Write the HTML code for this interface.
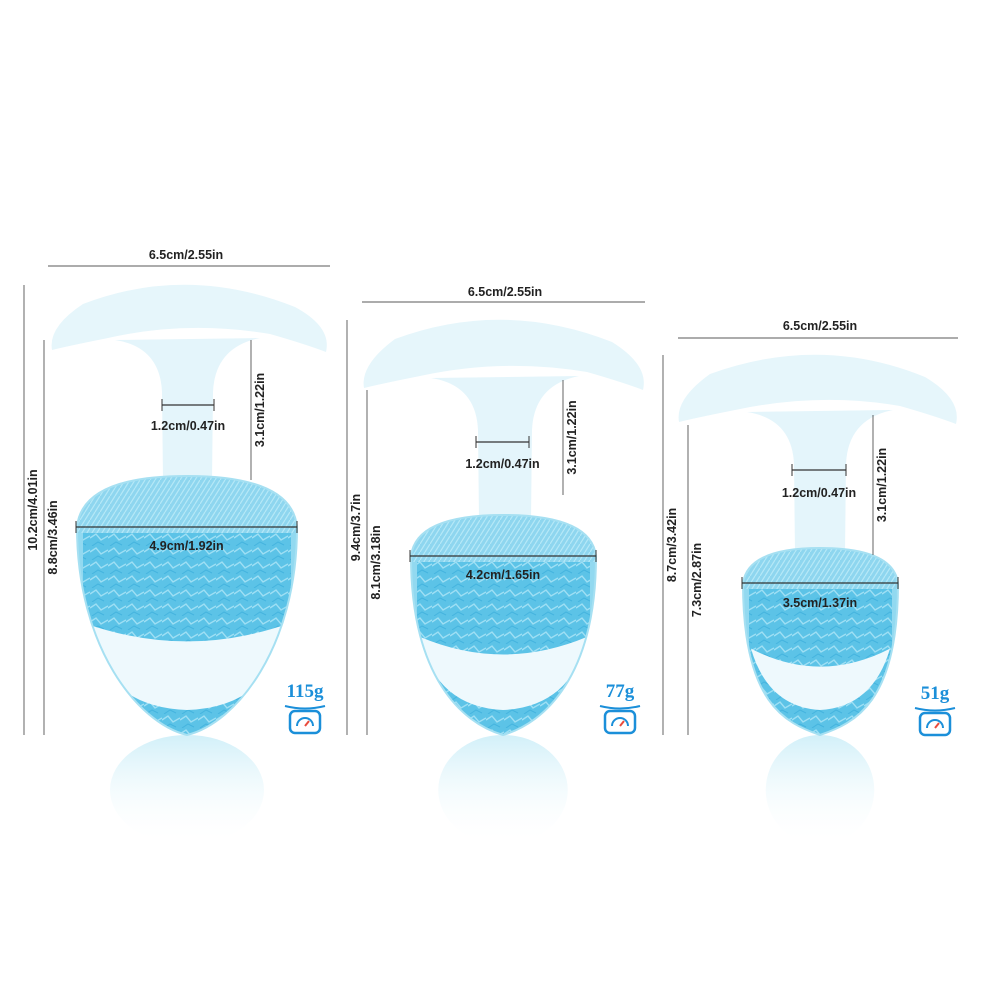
<!DOCTYPE html>
<html><head><meta charset="utf-8">
<style>
html,body{margin:0;padding:0;background:#fff;}
svg{display:block;}
text{font-family:"Liberation Sans",sans-serif;font-size:12.5px;fill:#222;font-weight:bold;}
.w{font-family:"Liberation Serif",serif;font-size:19px;fill:#1b8fd9;font-weight:bold;}
</style></head>
<body>
<svg id="s" width="1000" height="1000" viewBox="0 0 1000 1000" xmlns="http://www.w3.org/2000/svg">
<defs>
<linearGradient id="refl" x1="0" y1="0" x2="0" y2="1">
<stop offset="0" stop-color="#c6ecf7" stop-opacity="0.8"/>
<stop offset="1" stop-color="#ffffff" stop-opacity="0"/>
</linearGradient>
<pattern id="tex" width="18" height="14" patternUnits="userSpaceOnUse">
<rect width="18" height="14" fill="#5cc3e7"/>
<path d="M0 6 L6 2 L11 8 L18 4" stroke="#9edff4" stroke-width="1.4" fill="none"/>
<path d="M2 14 L8 10 L14 13" stroke="#44b4df" stroke-width="1" fill="none"/>
</pattern>
<pattern id="tex2" width="10" height="8" patternUnits="userSpaceOnUse">
<rect width="10" height="8" fill="#8ed6ef"/>
<path d="M0 8 L5 0 M5 8 L10 0" stroke="#b5e8f7" stroke-width="1.2"/>
</pattern>
</defs>
<g id="g"></g>
</svg>
<script>
var P=[
{cl:48,cr:330,ct:282,cb:352,sl:160,sr:215,bt:476,bl:77,br:297,wy:527,cx:187,
 top:[48,330,266,186,255,'6.5cm/2.55in'],v1:[24,285,735,'10.2cm/4.01in'],v2:[44,340,735,'8.8cm/3.46in'],v3:[251,340,480,'3.1cm/1.22in'],
 nk:[162,214,405,425,'1.2cm/0.47in'],wd:[76,297,527,545,'4.9cm/1.92in'],wt:[305,690,'115g']},
{cl:360,cr:647,ct:317,cb:390,sl:476,sr:534,bt:515,bl:411,br:596,wy:556,cx:503,
 top:[362,645,302,505,292,'6.5cm/2.55in'],v1:[347,320,735,'9.4cm/3.7in'],v2:[367,390,735,'8.1cm/3.18in'],v3:[563,380,495,'3.1cm/1.22in'],
 nk:[476,529,442,463,'1.2cm/0.47in'],wd:[410,596,556,574,'4.2cm/1.65in'],wt:[620,690,'77g']},
{cl:675,cr:960,ct:352,cb:424,sl:792,sr:848,bt:548,bl:743,br:898,wy:583,cx:820,
 top:[678,958,338,820,326,'6.5cm/2.55in'],v1:[663,355,735,'8.7cm/3.42in'],v2:[688,425,735,'7.3cm/2.87in'],v3:[873,415,555,'3.1cm/1.22in'],
 nk:[792,846,470,492,'1.2cm/0.47in'],wd:[742,898,583,602,'3.5cm/1.37in'],wt:[935,692,'51g']}
];
var h='';
P.forEach(function(p,i){
 var cx=p.cx,hw=(p.br-p.bl)/2,bot=735;
 h+='<ellipse cx="'+cx+'" cy="790" rx="'+(hw*0.7)+'" ry="55" fill="url(#refl)"/>';
 var L=p.cl,R=p.cr,T=p.ct,B=p.cb;
 // stem + flare
 h+='<path d="M'+(p.sl-45)+' '+(B-12)+' Q'+(p.sl)+' '+(B-5)+' '+(p.sl+2)+' '+(B+40)+' L'+(p.sl+3)+' '+(p.bt+5)+' L'+(p.sr-3)+' '+(p.bt+5)+' L'+(p.sr-2)+' '+(B+40)+' Q'+(p.sr)+' '+(B-5)+' '+(p.sr+45)+' '+(B-14)+' Z" fill="#e4f5fb"/>';
 // cap
 h+='<path d="M'+(L+4)+' '+(B-2)+' Q'+L+' '+(B-25)+' '+(L+35)+' '+(T+22)+' Q'+cx+' '+(T-18)+' '+(R-35)+' '+(T+25)+' Q'+(R+2)+' '+(B-25)+' '+(R-4)+' '+B+' Q'+(R-25)+' '+(B-8)+' '+(R-60)+' '+(B-18)+' Q'+cx+' '+(B-32)+' '+(L+60)+' '+(B-14)+' Q'+(L+20)+' '+(B-6)+' '+(L+4)+' '+(B-2)+' Z" fill="#e6f6fb"/>';
 var id='c'+i;
 var bp='M'+p.bl+' '+p.wy+' Q'+(p.bl+5)+' '+p.bt+' '+cx+' '+p.bt+' Q'+(p.br-5)+' '+p.bt+' '+p.br+' '+p.wy+' C'+p.br+' '+(p.wy+120)+' '+(cx+hw*0.45)+' '+(bot-12)+' '+cx+' '+bot+' C'+(cx-hw*0.45)+' '+(bot-12)+' '+p.bl+' '+(p.wy+120)+' '+p.bl+' '+p.wy+' Z';
 h+='<clipPath id="'+id+'"><path d="'+bp+'"/></clipPath>';
 h+='<g clip-path="url(#'+id+')">';
 h+='<rect x="'+p.bl+'" y="'+p.bt+'" width="'+(2*hw)+'" height="'+(bot-p.bt)+'" fill="#92d9f0"/>';
 h+='<rect x="'+(p.bl+6)+'" y="'+p.wy+'" width="'+(2*hw-12)+'" height="'+(bot-p.wy)+'" fill="url(#tex)"/>';
 h+='<rect x="'+p.bl+'" y="'+p.bt+'" width="'+(2*hw)+'" height="'+(p.wy-p.bt+6)+'" fill="url(#tex2)"/>';
 var wt=p.wy+(bot-p.wy)*0.55;
 h+='<path d="M'+(p.bl+8)+' '+(wt-18)+' Q'+cx+' '+(wt+18)+' '+(p.br-8)+' '+(wt-18)+' Q'+(p.br-25)+' '+(bot-28)+' '+cx+' '+(bot-25)+' Q'+(p.bl+25)+' '+(bot-28)+' '+(p.bl+8)+' '+(wt-18)+' Z" fill="#eef9fd"/>';
 h+='</g><path d="'+bp+'" fill="none" stroke="#a6e0f2" stroke-width="2"/>';
 var t=p.top;
 h+='<line x1="'+t[0]+'" y1="'+t[2]+'" x2="'+t[1]+'" y2="'+t[2]+'" stroke="#222" stroke-width="0.7"/>';
 h+='<text x="'+t[3]+'" y="'+(t[4]+4)+'" text-anchor="middle">'+t[5]+'</text>';
 [p.v1,p.v2,p.v3].forEach(function(v){
  h+='<line x1="'+v[0]+'" y1="'+v[1]+'" x2="'+v[0]+'" y2="'+v[2]+'" stroke="#222" stroke-width="0.7"/>';
  var my=(v[1]+v[2])/2, tx=v[0]+13;
  h+='<text transform="translate('+tx+','+my+') rotate(-90)" text-anchor="middle">'+v[3]+'</text>';
 });
 [p.nk,p.wd].forEach(function(n){
  h+='<line x1="'+n[0]+'" y1="'+n[2]+'" x2="'+n[1]+'" y2="'+n[2]+'" stroke="#333" stroke-width="1.2"/>';
  h+='<line x1="'+n[0]+'" y1="'+(n[2]-6)+'" x2="'+n[0]+'" y2="'+(n[2]+6)+'" stroke="#333"/>';
  h+='<line x1="'+n[1]+'" y1="'+(n[2]-6)+'" x2="'+n[1]+'" y2="'+(n[2]+6)+'" stroke="#333"/>';
  h+='<text x="'+((n[0]+n[1])/2)+'" y="'+(n[3]+5)+'" text-anchor="middle">'+n[4]+'</text>';
 });
 var w=p.wt;
 h+='<text class="w" x="'+w[0]+'" y="'+(w[1]+7)+'" text-anchor="middle">'+w[2]+'</text>';
 var iy=w[1]+12;
 h+='<path d="M'+(w[0]-20)+' '+(iy+4)+' Q'+w[0]+' '+(iy+9)+' '+(w[0]+20)+' '+(iy+4)+'" stroke="#1b8fd9" stroke-width="2" fill="none"/>';
 h+='<rect x="'+(w[0]-15)+'" y="'+(iy+9)+'" width="30" height="22" rx="5" fill="none" stroke="#1b8fd9" stroke-width="2.5"/>';
 h+='<path d="M'+(w[0]-8)+' '+(iy+24)+' A8 8 0 0 1 '+(w[0]+8)+' '+(iy+24)+'" stroke="#1b8fd9" stroke-width="2" fill="none"/>';
 h+='<line x1="'+w[0]+'" y1="'+(iy+24)+'" x2="'+(w[0]+4)+'" y2="'+(iy+19)+'" stroke="#e94b3c" stroke-width="2"/>';
});
document.getElementById('g').innerHTML=h;
</script>
</body></html>
